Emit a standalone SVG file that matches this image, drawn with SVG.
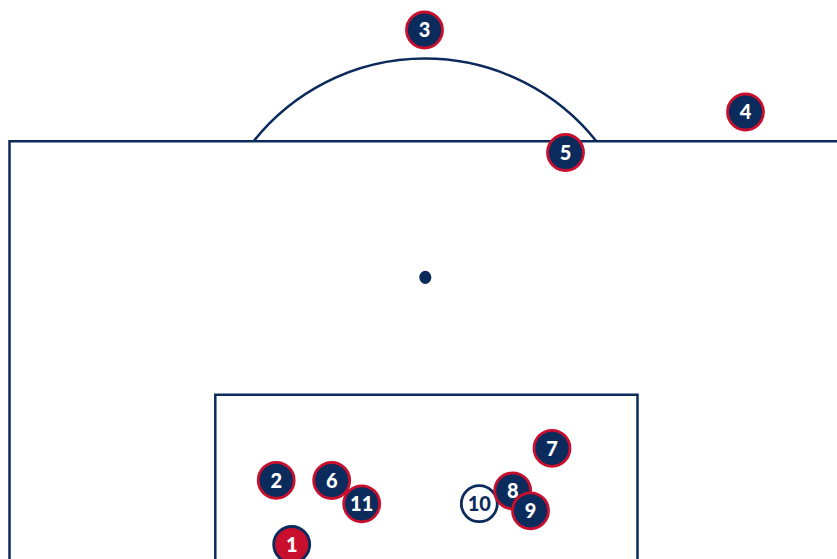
<svg xmlns="http://www.w3.org/2000/svg" width="837" height="559" viewBox="0 0 837 559">
<style>
.line{fill:none;stroke:#0b2b5c;stroke-width:2.5}
.p circle{fill:#0b2b5c;stroke:#c8102e;stroke-width:2.8}
.p text{fill:#ffffff;font-family:Lato,"Liberation Sans",sans-serif;font-weight:900;font-size:20px;text-anchor:middle}
#p1 circle{fill:#c8102e;stroke:#0b2b5c}
#p10 circle{fill:#ffffff;stroke:#0b2b5c}
#p10 text{fill:#0b2b5c}
</style>
<rect width="837" height="559" fill="#ffffff"/>
<g id="pitch">
<path class="line" d="M9.5,559 V141.3 H837"/>
<path class="line" d="M215.3,559 V394.7 H637.5 V559"/>
<path class="line" d="M253.6,141.3 A219,219 0 0 1 596.4,141.3"/>
<ellipse cx="425.3" cy="277.3" rx="6" ry="6.6" fill="#0b2b5c"/>
</g>
<g id="connectors"></g>
<g id="p3" class="p"><circle cx="424.5" cy="30" r="18"/><text x="424.5" y="37.3">3</text></g>
<g id="p4" class="p"><circle cx="745.5" cy="112" r="18"/><text x="745.5" y="119.3">4</text></g>
<g id="p5" class="p"><circle cx="565.5" cy="152.5" r="18"/><text x="565.5" y="159.8">5</text></g>
<g id="p7" class="p"><circle cx="552" cy="448.3" r="18"/><text x="552" y="455.6">7</text></g>
<g id="p2" class="p"><circle cx="276.2" cy="480.3" r="18"/><text x="276.2" y="487.6">2</text></g>
<g id="p6" class="p"><circle cx="331.7" cy="480.5" r="18"/><text x="331.7" y="487.8">6</text></g>
<g id="p11" class="p"><circle cx="361.7" cy="503.8" r="18"/><text x="361.7" y="511.1">11</text></g>
<g id="p10" class="p"><circle cx="479.3" cy="503.7" r="18"/><text x="479.3" y="511">10</text></g>
<g id="p8" class="p"><circle cx="512.7" cy="490.8" r="18"/><text x="512.7" y="498.1">8</text></g>
<g id="p9" class="p"><circle cx="530.5" cy="510.8" r="18"/><text x="530.5" y="518.1">9</text></g>
<g id="p1" class="p"><circle cx="291.7" cy="544.5" r="18"/><text x="291.7" y="551.8">1</text></g>
</svg>
